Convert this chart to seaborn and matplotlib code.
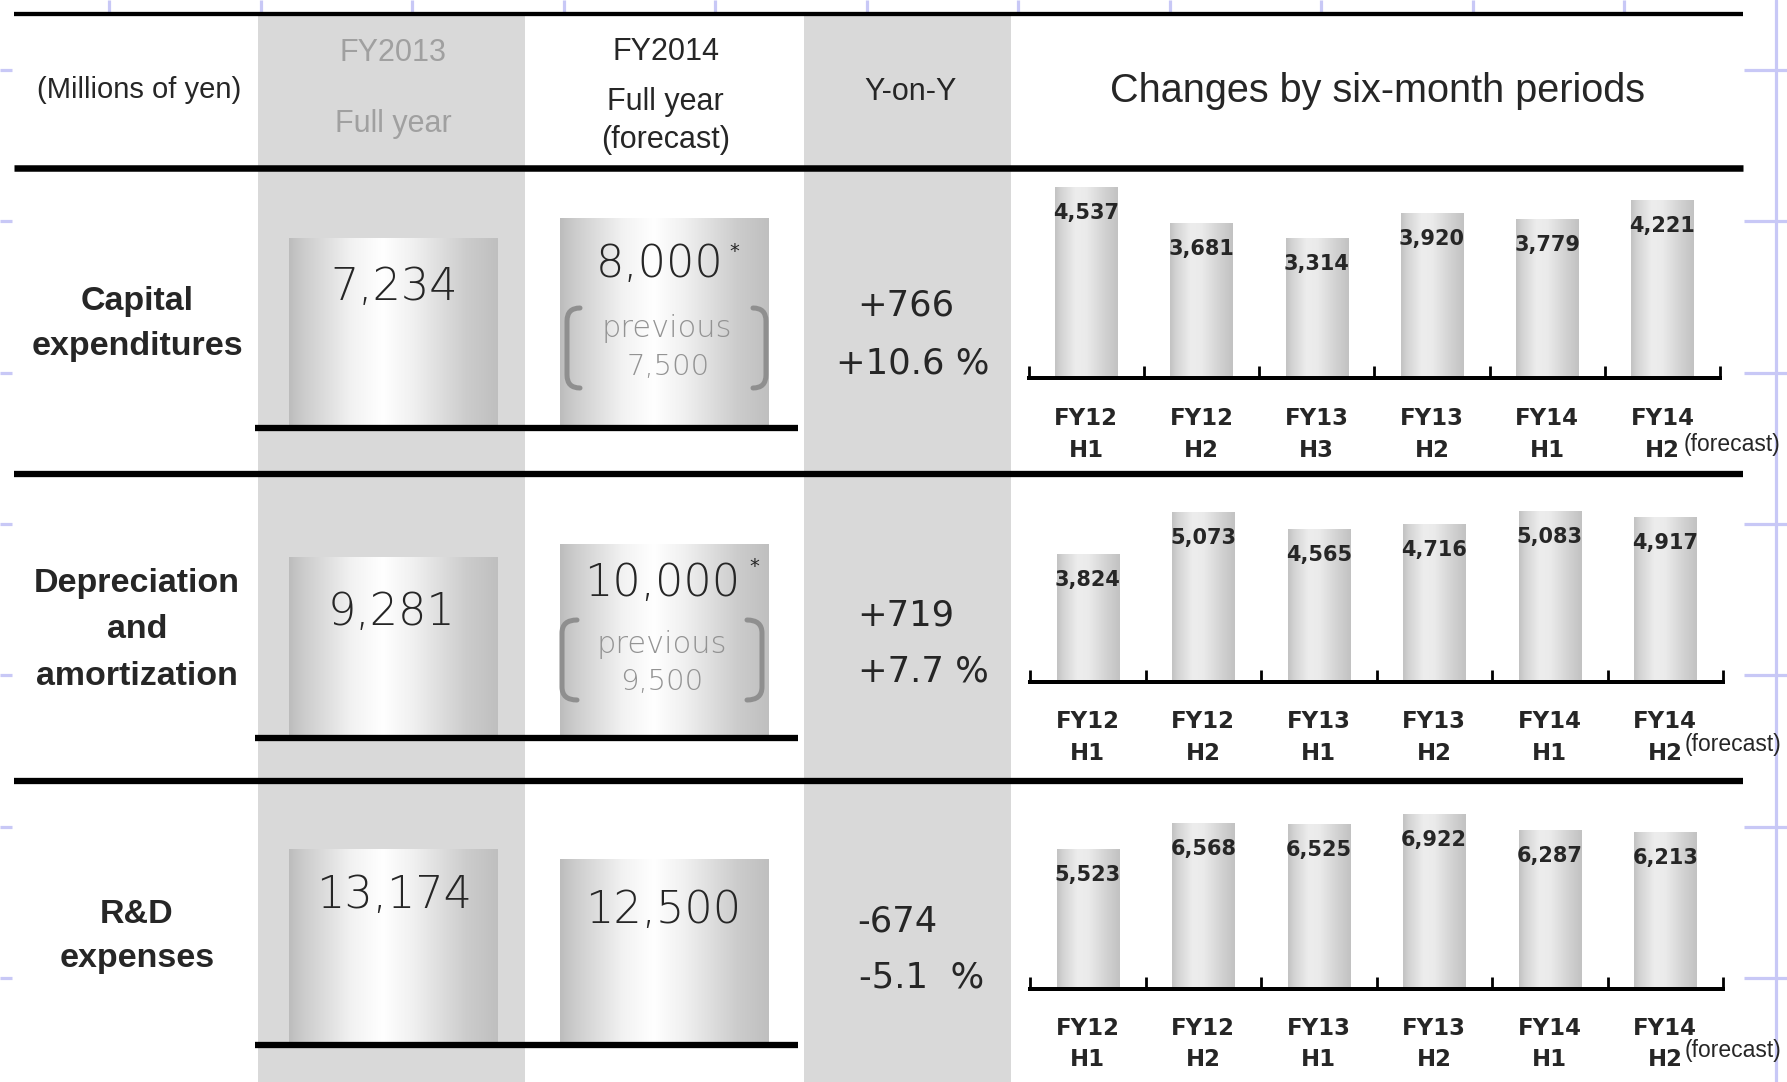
import numpy as np
import pandas as pd
import matplotlib
matplotlib.use("Agg")
import matplotlib.pyplot as plt
import seaborn as sns
from matplotlib.path import Path
from matplotlib.patches import PathPatch, Rectangle

# ---------------- data ----------------
row_title_lines = [["Capital", "expenditures"], ["Depreciation", "and", "amortization"], ["R&D", "expenses"]]
full_year_fy2013 = [7234, 9281, 13174]
full_year_fy2014 = [8000, 10000, 12500]
fy2014_revised = [True, True, False]
previous_forecast = ["7,500", "9,500", None]
yoy_amount = ["+766", "+719", "-674"]
yoy_percent = ["+10.6 %", "+7.7 %", "-5.1  %"]
period_years = ["FY12", "FY12", "FY13", "FY13", "FY14", "FY14"]
capex_halves = ["H1", "H2", "H3", "H2", "H1", "H2"]
other_halves = ["H1", "H2", "H1", "H2", "H1", "H2"]
capex_half = [4537, 3681, 3314, 3920, 3779, 4221]
depreciation_half = [3824, 5073, 4565, 4716, 5083, 4917]
rnd_half = [5523, 6568, 6525, 6922, 6287, 6213]
unit_label = "(Millions of yen)"
header_fy2013 = ["FY2013", "Full year"]
header_fy2014 = ["FY2014", "Full year", "(forecast)"]
header_yoy = "Y-on-Y"
header_changes = "Changes by six-month periods"
forecast_note = "(forecast)"

# ---------------- layout ----------------
sns.set_style("white")
plt.rcParams["font.family"] = ["Liberation Sans", "DejaVu Sans"]

W, H = 1787, 1082
PT = 72.0 / 100.0          # pixels -> points at dpi 100
GREY = "#d9d9d9"
LAV = "#c8c8f6"
NUMF = ["DejaVu Sans"]
SANS = ["Liberation Sans", "DejaVu Sans"]

fig = plt.figure(figsize=(W / 100, H / 100), dpi=100)
fig.patch.set_facecolor("white")

bg = fig.add_axes([0, 0, 1, 1], zorder=0)
bg.set_xlim(0, W); bg.set_ylim(H, 0); bg.axis("off")


def px_axes(x0, y0, x1, y1, z=2):
    ax = fig.add_axes([x0 / W, 1 - y1 / H, (x1 - x0) / W, (y1 - y0) / H], zorder=z)
    ax.patch.set_alpha(0)
    return ax


def gradient_fill(ax, stops):
    xs = np.linspace(0, 1, 256)
    pos, lev = zip(*stops)
    g = np.interp(xs, pos, lev)
    img = np.dstack([g, g, g])
    for p in list(ax.patches):
        x, y = p.get_x(), p.get_y()
        w, h = p.get_width(), p.get_height()
        im = ax.imshow(img, extent=(x, x + w, y, y + h), aspect="auto",
                       interpolation="bilinear", zorder=p.get_zorder() + 0.1)
        im.set_clip_path(p)


# background grey columns
bg.add_patch(Rectangle((258.3, 14), 267, H - 14, color=GREY, lw=0))
bg.add_patch(Rectangle((804, 14), 207, H - 14, color=GREY, lw=0))

# faint slide guides in the margins
for k in range(11):
    x = 109 + 151.5 * k
    bg.plot([x, x], [0, 12], color=LAV, lw=3.2 * PT, solid_capstyle="butt")
bg.plot([1775.5, 1775.5], [0, H], color=LAV, lw=3.2 * PT)
for k in range(7):
    y = 70 + 151.3 * k
    bg.plot([0, 12], [y, y], color=LAV, lw=3.2 * PT, solid_capstyle="butt")
    bg.plot([1744, W], [y, y], color=LAV, lw=3.2 * PT, solid_capstyle="butt")

# ---------------- big full-year bars ----------------
big_base = [428, 737.5, 1044.5]
big_top = [175, 480, 785]
big_scale = [0.0262, 0.0194, 0.01484]     # px per million yen
big_stops = [(0, 0.74), (0.07, 0.80), (0.3, 0.95), (0.45, 1.0), (0.6, 0.94),
             (0.85, 0.80), (1.0, 0.75)]
for r in range(3):
    ax = px_axes(255.5, big_top[r], 797.5, big_base[r])
    df = pd.DataFrame({"year": ["FY2013", "FY2014"],
                       "value": [full_year_fy2013[r], full_year_fy2014[r]]})
    sns.barplot(data=df, x="year", y="value", ax=ax, color="#d0d0d0",
                width=0.771, saturation=1, errorbar=None, edgecolor="none")
    gradient_fill(ax, big_stops)
    ax.set_xlim(-0.509, 1.491)
    ax.set_ylim(0, (big_base[r] - big_top[r]) / big_scale[r])
    for s in ["top", "left", "right"]:
        ax.spines[s].set_visible(False)
    ax.spines["bottom"].set_linewidth(6.3 * PT)
    ax.spines["bottom"].set_color("black")
    ax.spines["bottom"].set_capstyle("butt")
    ax.set_xticks([]); ax.set_yticks([])
    ax.set_xlabel(""); ax.set_ylabel("")

# ---------------- six-month bar charts ----------------
small_cfg = [
    (1028.6, 1720, 377.5, 0.0420, capex_halves, capex_half),
    (1030, 1723, 682, 0.0336, other_halves, depreciation_half),
    (1030, 1723, 989, 0.0253, other_halves, rnd_half),
]
year_dy_px = [41, 40, 39.5]
half_dy_px = [73, 72, 71]
forecast_dy_px = [67.5, 63, 62]
forecast_dx_px = [21, 19, 19]
small_stops = [(0, 0.76), (0.1, 0.83), (0.33, 0.93), (0.5, 0.92), (0.8, 0.82), (1.0, 0.76)]
for r, (x0, x1, base, scale, halves, vals) in enumerate(small_cfg):
    top = base - 205
    ax = px_axes(x0, top, x1, base)
    df = pd.DataFrame({"period": [f"{a} {b}" for a, b in zip(period_years, halves)],
                       "value": vals})
    sns.barplot(data=df, x="period", y="value", ax=ax, color="#d8d8d8",
                width=0.54, saturation=1, errorbar=None, edgecolor="none")
    gradient_fill(ax, small_stops)
    ax.set_xlim(-0.5, 5.5)
    ax.set_ylim(0, (base - top) / scale)
    for s in ["top", "left", "right"]:
        ax.spines[s].set_visible(False)
    ax.spines["bottom"].set_linewidth(4 * PT)
    ax.spines["bottom"].set_color("black")
    ax.set_yticks([])
    ax.set_xlabel(""); ax.set_ylabel("")
    n = len(vals)
    ax.set_xticks(range(n))
    ax.set_xticklabels(period_years, fontsize=16.5, fontweight="bold", family=NUMF)
    ax.tick_params(axis="x", which="both", bottom=True)
    ax.tick_params(axis="x", which="major", length=0, pad=year_dy_px[r] * PT)
    for t in ax.get_xticklabels():
        t.set_va("center")
    ax.set_xticks(np.arange(-0.5, n), minor=True)
    ax.tick_params(axis="x", which="minor", direction="in", length=9,
                   width=2, color="black")
    for i, h in enumerate(halves):
        ax.annotate(h, xy=(i, 0), xytext=(0, -half_dy_px[r] * PT),
                    textcoords="offset points", ha="center", va="center",
                    fontsize=16.5, fontweight="bold", family=NUMF,
                    annotation_clip=False)
    for i, v in enumerate(vals):
        ax.annotate(f"{v:,}", xy=(i, v), xytext=(0, -26 * PT),
                    textcoords="offset points", ha="center", va="center",
                    fontsize=15, fontweight="bold", family=NUMF,
                    annotation_clip=False)
    ax.annotate(forecast_note, xy=(n - 1, 0),
                xytext=(forecast_dx_px[r] * PT, -forecast_dy_px[r] * PT),
                textcoords="offset points", ha="left", va="center",
                fontsize=16.5, family=SANS, annotation_clip=False)

# ---------------- foreground: rules and table text ----------------
fg = fig.add_axes([0, 0, 1, 1], zorder=10)
fg.set_xlim(0, W); fg.set_ylim(H, 0); fg.axis("off"); fg.patch.set_alpha(0)

for y, t in [(13.8, 4.3), (167.5, 6.5), (474, 6.3), (780.5, 6.3)]:
    fg.plot([14, 1743], [y, y], color="black", lw=t * PT, solid_capstyle="butt")

fg.text(139, 98.2, unit_label, ha="center", va="baseline", fontsize=21, family=SANS)
fg.text(393, 60.7, header_fy2013[0], ha="center", va="baseline", fontsize=22,
        color="#a0a0a0", family=SANS)
fg.text(393, 132, header_fy2013[1], ha="center", va="baseline", fontsize=22,
        color="#a0a0a0", family=SANS)
for txt, yb in zip(header_fy2014, [60, 110, 148]):
    fg.text(665.6, yb, txt, ha="center", va="baseline", fontsize=22, family=SANS)
fg.text(911, 100, header_yoy, ha="center", va="baseline", fontsize=22, family=SANS)
fg.text(1377.5, 102, header_changes, ha="center", va="baseline", fontsize=28.5,
        family=SANS)

title_baselines = [[310, 355], [592, 638.3, 685], [923, 966.7]]
for lines, ybs in zip(row_title_lines, title_baselines):
    for txt, yb in zip(lines, ybs):
        fg.text(137, yb, txt, ha="center", va="baseline", fontsize=24.5,
                fontweight="bold", family=SANS)

# numbers inside the full-year bars
v13_pos = [(394, 300), (392, 625), (394, 908)]
v14_pos = [(660, 277), (662, 596), (663, 922.7)]
star_pos = [(734, 251), (754, 566.5), None]
prev_pos = [((667, 336.7), (668, 375)), ((662, 652.7), (662, 690)), None]
brackets = [((567, 580), (766, 753), 308, 388), ((562, 577), (762, 747), 620, 700), None]
for r in range(3):
    fg.text(*v13_pos[r], f"{full_year_fy2013[r]:,}", ha="center", va="baseline",
            fontsize=32, fontweight="light", family=NUMF)
    fg.text(*v14_pos[r], f"{full_year_fy2014[r]:,}", ha="center", va="baseline",
            fontsize=32, fontweight="light", family=NUMF)
    if fy2014_revised[r]:
        fg.text(*star_pos[r], "*", ha="center", va="center", fontsize=14, family=NUMF)
        (px1, py1), (px2, py2) = prev_pos[r]
        fg.text(px1, py1, "previous", ha="center", va="baseline", fontsize=22,
                color="#939393", fontweight="light", family=NUMF)
        fg.text(px2, py2, previous_forecast[r], ha="center", va="baseline",
                fontsize=21, color="#939393", fontweight="light", family=NUMF)
        (lv, le), (rv, re_), yt, yb = brackets[r]
        rr = 13
        for xv, xe in [(lv, le), (rv, re_)]:
            path = Path([(xe, yt), (xv, yt), (xv, yt + rr), (xv, yb - rr), (xv, yb), (xe, yb)],
                        [Path.MOVETO, Path.CURVE3, Path.CURVE3, Path.LINETO,
                         Path.CURVE3, Path.CURVE3])
            fg.add_patch(PathPatch(path, fill=False, edgecolor="#8f8f8f",
                                   lw=5 * PT, capstyle="round"))

# year-on-year column
yoy_amt_pos = [(857, 315), (857, 625), (857, 931.6)]
yoy_pct_pos = [(836, 373), (858, 681.6), (859, 987)]
for r in range(3):
    fg.text(*yoy_amt_pos[r], yoy_amount[r], ha="left", va="baseline",
            fontsize=25.5, family=NUMF)
    fg.text(*yoy_pct_pos[r], yoy_percent[r], ha="left", va="baseline",
            fontsize=25.5, family=NUMF)

fig.savefig("out.png", dpi=100, facecolor="white")
